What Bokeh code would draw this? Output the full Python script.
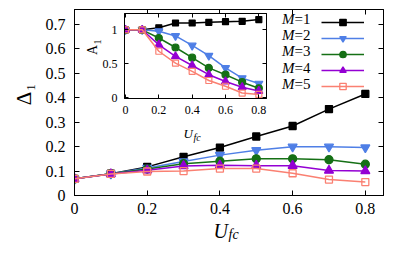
import math
from bokeh.plotting import figure
from bokeh.models import FixedTicker, LinearAxis, Label, Legend, LegendItem, Range1d
from bokeh.layouts import column
from bokeh.embed import file_html
from bokeh.resources import INLINE

# ---------------- data ----------------
U = [0.0, 0.1, 0.2, 0.3, 0.4, 0.5, 0.6, 0.7, 0.8]
series_names = ["1", "2", "3", "4", "5"]

delta_M1 = [0.068, 0.089, 0.117, 0.158, 0.196, 0.241, 0.284, 0.353, 0.415]
delta_M2 = [0.068, 0.089, 0.112, 0.139, 0.165, 0.185, 0.199, 0.199, 0.196]
delta_M3 = [0.068, 0.089, 0.108, 0.130, 0.140, 0.150, 0.150, 0.146, 0.128]
delta_M4 = [0.068, 0.088, 0.103, 0.121, 0.124, 0.122, 0.122, 0.102, 0.100]
delta_M5 = [0.068, 0.088, 0.098, 0.100, 0.110, 0.110, 0.091, 0.065, 0.055]

A_M1 = [1.0, 1.0, 1.03, 1.10, 1.10, 1.11, 1.12, 1.125, 1.15]
A_M2 = [1.0, 1.0, 0.98, 0.91, 0.77, 0.62, 0.44, 0.29, 0.21]
A_M3 = [1.0, 1.0, 0.88, 0.74, 0.59, 0.44, 0.34, 0.23, 0.14]
A_M4 = [1.0, 1.0, 0.78, 0.61, 0.475, 0.34, 0.24, 0.156, 0.10]
A_M5 = [1.0, 1.0, 0.685, 0.51, 0.39, 0.255, 0.17, 0.07, 0.05]

main_x_ticks = [0.0, 0.2, 0.4, 0.6, 0.8]
main_x_labels = ["0", "0.2", "0.4", "0.6", "0.8"]
main_y_ticks = [0.0, 0.1, 0.2, 0.3, 0.4, 0.5, 0.6, 0.7]
main_y_labels = ["0", "0.1", "0.2", "0.3", "0.4", "0.5", "0.6", "0.7"]
inset_x_ticks = [0.0, 0.2, 0.4, 0.6, 0.8]
inset_x_labels = ["0", "0.2", "0.4", "0.6", "0.8"]
inset_y_ticks = [0.0, 0.5, 1.0]
inset_y_labels = ["0", "0.5", "1"]

deltas = [delta_M1, delta_M2, delta_M3, delta_M4, delta_M5]
amps = [A_M1, A_M2, A_M3, A_M4, A_M5]

# ---------------- styles ----------------
colors = ["#000000", "#4f7fe6", "#157015", "#9400d3", "#fa8072"]
markers = ["square", "inverted_triangle", "circle", "triangle", "square"]
filled = [True, True, True, True, False]
main_sizes = [7, 9, 8, 9, 7]
inset_sizes = [6, 8, 7, 8, 6]
SERIF = "Liberation Serif"
PAGE_W, PAGE_H = 395, 261


def no_align(fig):
    try:
        fig.frame_align = False
    except Exception:
        pass


def style_axis(ax, ticks, labels, size, show_labels=True, tick_in=5, standoff=8):
    ax.ticker = FixedTicker(ticks=ticks)
    ax.major_tick_in = tick_in
    ax.major_tick_out = 0
    ax.minor_tick_line_color = None
    ax.axis_line_color = "black"
    ax.major_tick_line_color = "black"
    ax.major_label_text_font = SERIF
    if show_labels:
        ax.major_label_overrides = {t: l for t, l in zip(ticks, labels)}
        ax.major_label_text_color = "black"
        ax.major_label_text_font_size = size
        ax.major_label_standoff = standoff
    else:
        ax.major_label_text_color = None
        ax.major_label_text_alpha = 0
        ax.major_label_text_font_size = "1px"
        ax.major_label_standoff = 0


# ---------------- main figure ----------------
p = figure(width=391, height=253, x_range=Range1d(0, 0.85), y_range=Range1d(0, 0.76),
           output_backend="svg", toolbar_location=None,
           min_border_left=74, min_border_right=8, min_border_top=9, min_border_bottom=58)
no_align(p)
p.grid.visible = False
p.outline_line_color = "black"
p.background_fill_color = "white"
p.border_fill_color = "white"
style_axis(p.xaxis[0], main_x_ticks, main_x_labels, "16px", standoff=7)
style_axis(p.yaxis[0], main_y_ticks, main_y_labels, "16px", standoff=9)
top_ax = LinearAxis()
style_axis(top_ax, main_x_ticks, main_x_labels, "16px", show_labels=False)
p.add_layout(top_ax, "above")
right_ax = LinearAxis()
style_axis(right_ax, main_y_ticks, main_y_labels, "16px", show_labels=False)
p.add_layout(right_ax, "right")

legend_items = []
for name, ys, c, m, f, s in zip(series_names, deltas, colors, markers, filled, main_sizes):
    ln = p.line(U, ys, line_color=c, line_width=1.5)
    sc = p.scatter(U, ys, marker=m, size=s, line_color=c, line_width=1.3,
                   fill_color=c if f else None)
    legend_items.append(LegendItem(label=" ", renderers=[ln, sc]))

legend = Legend(items=legend_items, location=(247, 101), padding=0, margin=0,
                spacing=0, glyph_width=43, glyph_height=16, label_height=16,
                label_width=0, label_standoff=0, label_text_font_size="1px",
                border_line_color=None, background_fill_alpha=0)
p.add_layout(legend, "center")

# ---------------- inset ----------------
q = figure(width=192, height=141, x_range=Range1d(-0.006, 0.846), y_range=Range1d(-0.01, 1.24),
           output_backend="svg", toolbar_location=None,
           min_border_left=44, min_border_right=6, min_border_top=6, min_border_bottom=50)
no_align(q)
q.grid.visible = False
q.outline_line_color = "black"
q.background_fill_color = "white"
q.border_fill_color = None
style_axis(q.xaxis[0], inset_x_ticks, inset_x_labels, "12px", tick_in=4, standoff=7)
style_axis(q.yaxis[0], inset_y_ticks, inset_y_labels, "12px", tick_in=4, standoff=7)
qt = LinearAxis()
style_axis(qt, inset_x_ticks, inset_x_labels, "12px", show_labels=False, tick_in=4)
q.add_layout(qt, "above")
qr = LinearAxis()
style_axis(qr, inset_y_ticks, inset_y_labels, "12px", show_labels=False, tick_in=4)
q.add_layout(qr, "right")

for ys, c, m, f, s in zip(amps, colors, markers, filled, inset_sizes):
    q.line(U, ys, line_color=c, line_width=1.5)
    q.scatter(U, ys, marker=m, size=s, line_color=c, line_width=1.2,
              fill_color=c if f else None)

q.styles = {"position": "absolute", "left": "80px", "top": "7px"}

# ---------------- text overlay (page pixel coordinates) ----------------
t = figure(width=PAGE_W, height=PAGE_H, x_range=Range1d(0, 1), y_range=Range1d(0, 1),
           output_backend="svg", toolbar_location=None,
           x_axis_location=None, y_axis_location=None,
           min_border_left=0, min_border_right=0, min_border_top=0, min_border_bottom=0)
no_align(t)
t.grid.visible = False
t.outline_line_color = None
t.background_fill_color = None
t.border_fill_color = None
t.styles = {"position": "absolute", "left": "0px", "top": "0px", "pointer-events": "none"}


def add_text(text, x, y, size, italic=False, angle=0.0, align="left"):
    t.add_layout(Label(x=x, y=PAGE_H - y, x_units="screen", y_units="screen", text=text,
                       text_font=SERIF, text_font_size=size,
                       text_font_style="italic" if italic else "normal",
                       text_align=align, text_baseline="alphabetic",
                       angle=angle, text_color="black"))


# main axis titles
add_text("Δ", 23, 106, "21px", angle=math.pi / 2, align="center")
add_text("1", 30, 95, "13px", angle=math.pi / 2, align="center")
add_text("U", 213, 238, "20px", italic=True)
add_text("fc", 228, 242, "14px", italic=True)
# inset axis titles
add_text("A", 92, 57.5, "14px", angle=math.pi / 2, align="center")
add_text("1", 97, 49.5, "10px", angle=math.pi / 2, align="center")
add_text("U", 183, 141, "13px", italic=True)
add_text("fc", 193, 145, "10px", italic=True)
# legend texts
row_centers_img = [21.7, 37.8, 53.9, 70.0, 86.1]
for name, yc in zip(series_names, row_centers_img):
    add_text("=" + name, 310, yc + 5, "15px", align="right")
    add_text("M", 294, yc + 5, "15px", italic=True, align="right")

layout = column(p, q, t)
layout.styles = {"position": "relative"}
no_align(layout)

open("out.html", "w").write(file_html(layout, INLINE))
